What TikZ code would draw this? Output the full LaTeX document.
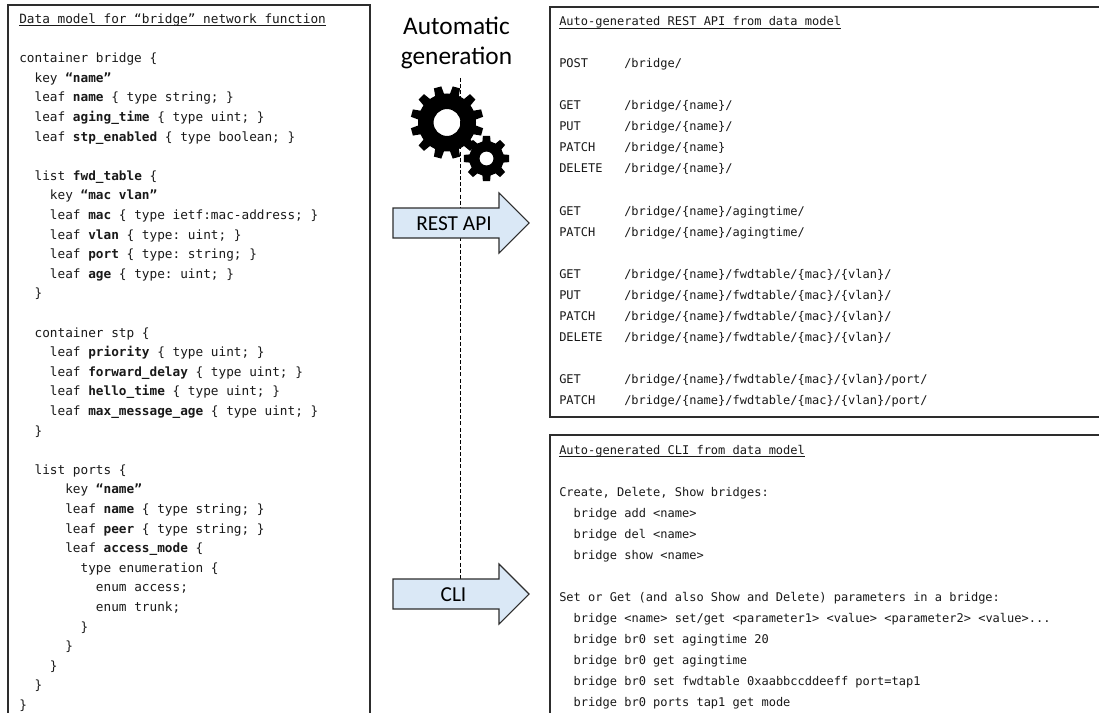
\documentclass[tikz,border=0pt]{standalone}
\usepackage{fontspec}
\setmonofont{DejaVu Sans Mono}
\newfontfamily\calib{Carlito}
\definecolor{arrowfill}{RGB}{218,232,246}
\definecolor{linecol}{RGB}{45,45,45}
\newcommand\drawgear[7]{%
 \begin{scope}[shift={(#1,#2)}]
  \pgfmathsetmacro\gpitch{360/#3}
  \pgfmathsetmacro\gtip{0.2*\gpitch}
  \pgfmathsetmacro\gbase{0.3*\gpitch}
  \pgfmathsetmacro\gstart{#7+\gpitch-\gbase}
  \fill[black,even odd rule] (\gstart:#4)
   \foreach \i [evaluate=\i as \ga using {\i*\gpitch+#7}] in {1,...,#3}{
     -- ({\ga-\gbase}:#4) -- ({\ga-\gtip}:#5) -- ({\ga+\gtip}:#5) -- ({\ga+\gbase}:#4)
     arc[start angle={\ga+\gbase}, end angle={\ga+\gpitch-\gbase}, radius=#4]
   } -- cycle (0,0) circle[radius=#6];
 \end{scope}}
\newcommand\Lline[3]{\node[lt] (L#1) at ({19+#2*7.67},{23.5+19.6*#1}) {#3};}
\newcommand\Rline[3]{\node[rt] (RM#1) at (559,{26+21*#1}) {#2}; \node[rt] (RP#1) at (624,{26+21*#1}) {#3};}
\newcommand\Cline[3]{\node[rt] (C#1) at ({559+#2*7.23},{454.5+21*#1}) {#3};}
\begin{document}
\begin{tikzpicture}[x=0.75pt,y=-0.75pt,
  lt/.style={anchor=base west, inner sep=0pt, text=black!90, font=\fontsize{9.55pt}{11pt}\selectfont\ttfamily},
  rt/.style={anchor=base west, inner sep=0pt, text=black!90, font=\fontsize{9.0pt}{11pt}\selectfont\ttfamily},
  boxline/.style={draw=linecol, line width=0.9pt},
  uline/.style={line width=0.7pt, black!90},
  bigarrow/.style={draw=linecol, line width=0.8pt, fill=arrowfill, line join=miter},
  lbl/.style={anchor=base, inner sep=0pt, font=\fontsize{16pt}{18pt}\selectfont\calib},
  headtext/.style={anchor=base, inner sep=0pt, font=\fontsize{19pt}{22pt}\selectfont\calib},
  dashline/.style={line width=0.75pt, dash pattern=on 3pt off 1.6pt}]
\useasboundingbox (0,0) rectangle (1099,713);
\fill[white] (0,0) rectangle (1099,713);

% boxes
\draw[boxline] (8,5) rectangle (370,740);
\draw[boxline] (550,7) rectangle (1120,417);
\draw[boxline] (550,435) rectangle (1120,740);

% left box text
\Lline{0}{0}{Data model for “bridge” network function}
\draw[uline] ([yshift=-1.6pt]L0.base west) -- ([yshift=-1.6pt]L0.base east);
\Lline{2}{0}{container bridge \{}
\Lline{3}{2}{key \textbf{“name”}}
\Lline{4}{2}{leaf \textbf{name} \{ type string; \}}
\Lline{5}{2}{leaf \textbf{aging\_time} \{ type uint; \}}
\Lline{6}{2}{leaf \textbf{stp\_enabled} \{ type boolean; \}}
\Lline{8}{2}{list \textbf{fwd\_table} \{}
\Lline{9}{4}{key \textbf{“mac vlan”}}
\Lline{10}{4}{leaf \textbf{mac} \{ type ietf:mac-address; \}}
\Lline{11}{4}{leaf \textbf{vlan} \{ type: uint; \}}
\Lline{12}{4}{leaf \textbf{port} \{ type: string; \}}
\Lline{13}{4}{leaf \textbf{age} \{ type: uint; \}}
\Lline{14}{2}{\}}
\Lline{16}{2}{container stp \{}
\Lline{17}{4}{leaf \textbf{priority} \{ type uint; \}}
\Lline{18}{4}{leaf \textbf{forward\_delay} \{ type uint; \}}
\Lline{19}{4}{leaf \textbf{hello\_time} \{ type uint; \}}
\Lline{20}{4}{leaf \textbf{max\_message\_age} \{ type uint; \}}
\Lline{21}{2}{\}}
\Lline{23}{2}{list ports \{}
\Lline{24}{6}{key \textbf{“name”}}
\Lline{25}{6}{leaf \textbf{name} \{ type string; \}}
\Lline{26}{6}{leaf \textbf{peer} \{ type string; \}}
\Lline{27}{6}{leaf \textbf{access\_mode} \{}
\Lline{28}{8}{type enumeration \{}
\Lline{29}{10}{enum access;}
\Lline{30}{10}{enum trunk;}
\Lline{31}{8}{\}}
\Lline{32}{6}{\}}
\Lline{33}{4}{\}}
\Lline{34}{2}{\}}
\Lline{35}{0}{\}}

% REST box text
\node[rt] (RT) at (559,26) {Auto-generated REST API from data model};
\draw[uline] ([yshift=-1.6pt]RT.base west) -- ([yshift=-1.6pt]RT.base east);
\Rline{2}{POST}{/bridge/}
\Rline{4}{GET}{/bridge/\{name\}/}
\Rline{5}{PUT}{/bridge/\{name\}/}
\Rline{6}{PATCH}{/bridge/\{name\}}
\Rline{7}{DELETE}{/bridge/\{name\}/}
\Rline{9}{GET}{/bridge/\{name\}/agingtime/}
\Rline{10}{PATCH}{/bridge/\{name\}/agingtime/}
\Rline{12}{GET}{/bridge/\{name\}/fwdtable/\{mac\}/\{vlan\}/}
\Rline{13}{PUT}{/bridge/\{name\}/fwdtable/\{mac\}/\{vlan\}/}
\Rline{14}{PATCH}{/bridge/\{name\}/fwdtable/\{mac\}/\{vlan\}/}
\Rline{15}{DELETE}{/bridge/\{name\}/fwdtable/\{mac\}/\{vlan\}/}
\Rline{17}{GET}{/bridge/\{name\}/fwdtable/\{mac\}/\{vlan\}/port/}
\Rline{18}{PATCH}{/bridge/\{name\}/fwdtable/\{mac\}/\{vlan\}/port/}

% CLI box text
\Cline{0}{0}{Auto-generated CLI from data model}
\draw[uline] ([yshift=-1.6pt]C0.base west) -- ([yshift=-1.6pt]C0.base east);
\Cline{2}{0}{Create, Delete, Show bridges:}
\Cline{3}{2}{bridge add <name>}
\Cline{4}{2}{bridge del <name>}
\Cline{5}{2}{bridge show <name>}
\Cline{7}{0}{Set or Get (and also Show and Delete) parameters in a bridge:}
\Cline{8}{2}{bridge <name> set/get <parameter1> <value> <parameter2> <value>...}
\Cline{9}{2}{bridge br0 set agingtime 20}
\Cline{10}{2}{bridge br0 get agingtime}
\Cline{11}{2}{bridge br0 set fwdtable 0xaabbccddeeff port=tap1}
\Cline{12}{2}{bridge br0 ports tap1 get mode}

% middle
\node[headtext] (auto1) at (456.5,35) {Automatic};
\node[headtext] (auto2) at (456.5,65) {generation};
\coordinate (dtop) at (460,78);
\coordinate (clitop) at (460,579);
\draw[dashline] (dtop) -- (clitop);

\drawgear{447}{122.5}{12}{21.75pt}{27.4pt}{10.1pt}{15}
\drawgear{486.5}{158.5}{8}{13.1pt}{17.25pt}{5.25pt}{0}

\draw[bigarrow] (393,208) -- (499,208) -- (499,193) -- (529,223) -- (499,253) -- (499,238) -- (393,238) -- cycle;
\node[lbl] (restlbl) at (454,230) {REST API};
\draw[bigarrow] (393,579) -- (499,579) -- (499,564) -- (529,594) -- (499,624) -- (499,609) -- (393,609) -- cycle;
\node[lbl] (clilbl) at (453.5,601) {CLI};
\end{tikzpicture}
\end{document}
